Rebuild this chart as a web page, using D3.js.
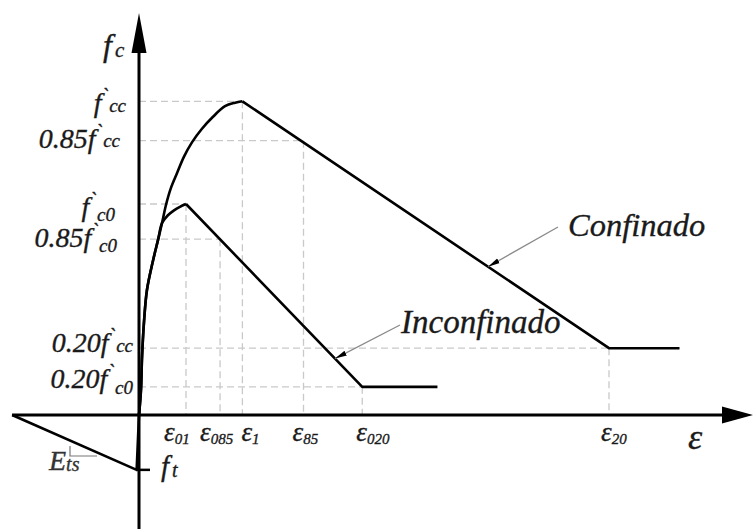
<!DOCTYPE html>
<html>
<head>
<meta charset="utf-8">
<script src="https://cdn.jsdelivr.net/npm/d3@7/dist/d3.min.js"></script>
<style>
  html, body { margin: 0; padding: 0; background: #fff; }
  svg { display: block; }
  text { font-family: "Liberation Serif", "Times New Roman", serif; font-style: italic; fill: #1a1a1a; stroke: #1a1a1a; stroke-width: 0.35px; }
</style>
</head>
<body>
<svg id="chart" width="753" height="529"></svg>
<script>
// Schematic stress–strain model for confined and unconfined concrete.
// Strain in ‰, stress in MPa-like schematic units.

// Confined branch: parabolic rise to f'cc, linear softening, residual plateau
const confinedRiseStrain = [0, 0.085, 0.13, 0.21, 0.34, 0.60, 0.81, 0.98, 1.15, 1.36, 1.62, 1.91, 2.26, 2.68, 3.15, 3.66, 4.09, 4.4];
const confinedRiseStress = [0, 3.6, 8.3, 13.1, 17.8, 22.0, 24.9, 27.3, 29.9, 32.3, 34.4, 36.7, 38.8, 40.7, 42.4, 43.9, 44.4, 44.6];
const confinedTailStrain = [4.4, 20.0, 23.0];
const confinedTailStress = [44.6, 9.5, 9.5];

// Unconfined branch
const unconfinedRiseStrain = [0, 0.085, 0.13, 0.21, 0.34, 0.60, 0.81, 0.98, 1.23, 1.49, 1.74, 2.0];
const unconfinedRiseStress = [0, 3.6, 8.3, 13.1, 17.8, 22.0, 24.9, 27.3, 28.4, 29.1, 29.6, 30.0];
const unconfinedTailStrain = [2.0, 9.5, 12.7];
const unconfinedTailStress = [30.0, 4.0, 4.0];

// Tension branch
const tensionStrain = [0, -0.1, -5.4];
const tensionStress = [0, -7.8, 0];

// Reference stress levels (y-axis labels)
const levelMain  = ["f", "0.85f", "f", "0.85f", "0.20f", "0.20f"];
const levelSub   = ["cc", "cc", "c0", "c0", "cc", "c0"];
const levelValue = [44.6, 39.0, 30.0, 25.0, 9.5, 4.0];
const levelReach = [4.4, 7.0, 2.0, 3.45, 20.0, 9.5];

// Reference strains (x-axis labels)
const strainSub   = ["01", "085", "1", "85", "020", "20"];
const strainValue = [2.0, 3.45, 4.4, 7.0, 9.5, 20.0];
const strainReach = [30.0, 25.0, 44.6, 39.0, 4.0, 9.5];

const ftValue = -7.8;

const W = 753, H = 529;
const svg = d3.select("#chart");

const x = d3.scaleLinear().domain([0, 20]).range([139, 609]);
const y = d3.scaleLinear().domain([0, 30]).range([415, 204]);

const zip = (a, b) => a.map((v, i) => [v, b[i]]);
const lineSmooth = d3.line().x(d => x(d[0])).y(d => y(d[1])).curve(d3.curveCatmullRom.alpha(0.5));
const lineLin    = d3.line().x(d => x(d[0])).y(d => y(d[1]));

// Dashed guide lines
const grid = svg.append("g").attr("stroke", "#c9c9c9").attr("stroke-width", 1.3)
  .attr("stroke-dasharray", "7,4").attr("fill", "none");
levelValue.forEach((v, i) => {
  grid.append("line").attr("x1", x(0)).attr("x2", x(levelReach[i]))
    .attr("y1", y(v)).attr("y2", y(v));
});
strainValue.forEach((v, i) => {
  grid.append("line").attr("x1", x(v)).attr("x2", x(v))
    .attr("y1", y(strainReach[i])).attr("y2", y(0));
});

// Axes
const axisG = svg.append("g");
const xStart = x(tensionStrain[2]);
axisG.append("line").attr("x1", xStart).attr("x2", W - 30).attr("y1", y(0)).attr("y2", y(0))
  .attr("stroke", "#000").attr("stroke-width", 3);
axisG.append("path").attr("d", `M${W - 31},${y(0) - 8.5}L${W},${y(0)}L${W - 31},${y(0) + 8.5}Z`).attr("fill", "#000");
axisG.append("line").attr("x1", x(0)).attr("x2", x(0)).attr("y1", H).attr("y2", 50)
  .attr("stroke", "#000").attr("stroke-width", 3);

// Axis titles
const fc = svg.append("text").attr("x", 103).attr("y", 56).attr("font-size", 32);
fc.append("tspan").text("f");
fc.append("tspan").attr("font-size", 21).attr("dx", 3).attr("dy", 1).text("c");
axisG.append("path").attr("d", `M${x(0) - 7.5},53L${x(0)},13L${x(0) + 7.5},53Z`).attr("fill", "#000");

svg.append("text").attr("x", 688).attr("y", 449).attr("font-size", 36).text("ε");

// Curves
const curves = svg.append("g").attr("fill", "none").attr("stroke", "#000")
  .attr("stroke-width", 2.6).attr("stroke-linejoin", "round");
curves.append("path").attr("d", lineSmooth(zip(confinedRiseStrain, confinedRiseStress)));
curves.append("path").attr("d", lineLin(zip(confinedTailStrain, confinedTailStress)));
curves.append("path").attr("d", lineSmooth(zip(unconfinedRiseStrain, unconfinedRiseStress)));
curves.append("path").attr("d", lineLin(zip(unconfinedTailStrain, unconfinedTailStress)));
curves.append("path").attr("d", lineLin(zip(tensionStrain, tensionStress)));

// f_t marker
svg.append("line").attr("x1", x(0) - 3).attr("x2", x(0) + 11)
  .attr("y1", y(ftValue)).attr("y2", y(ftValue)).attr("stroke", "#000").attr("stroke-width", 2.5);
const ft = svg.append("text").attr("x", 161).attr("y", 476).attr("font-size", 29);
ft.append("tspan").text("f");
ft.append("tspan").attr("font-size", 20).attr("dx", 3).attr("dy", 1).text("t");

// E_ts slope mark
svg.append("path").attr("d", "M70,446V456H97").attr("fill", "none")
  .attr("stroke", "#777").attr("stroke-width", 1.2);
const ets = svg.append("text").attr("x", 49).attr("y", 470).attr("font-size", 28)
  .style("fill", "#333").style("stroke", "#333");
ets.append("tspan").text("E");
ets.append("tspan").attr("font-size", 20).attr("dy", 1).text("ts");

// Stress level labels
const levelRight = [126, 120, 115, 117, 133, 133];
const levelBase  = [11, 7, 12, 8, 4, 1];
const levelSubDy = [0, -1, 5, 5, 0, 6];
levelValue.forEach((v, i) => {
  const t = svg.append("text").attr("x", levelRight[i]).attr("y", y(v) + levelBase[i])
    .attr("font-size", 28).attr("text-anchor", "end");
  t.append("tspan").text(levelMain[i]);
  t.append("tspan").attr("font-size", 20).attr("dx", 0).attr("dy", -9).text("`");
  t.append("tspan").attr("font-size", 19).attr("dx", 1).attr("dy", 9 + levelSubDy[i]).text(levelSub[i]);
});

// Strain labels
const strainNudge = [-22, -20, -1, -11, -6, -8];
strainValue.forEach((v, i) => {
  const t = svg.append("text").attr("x", x(v) + strainNudge[i]).attr("y", 441).attr("font-size", 27);
  t.append("tspan").text("ε");
  t.append("tspan").attr("font-size", 15).attr("dx", 0).attr("dy", 3).text(strainSub[i]);
});

// Leader annotations
const defs = svg.append("defs");
defs.append("marker").attr("id", "tip").attr("viewBox", "0 -3 12 6")
  .attr("refX", 12).attr("refY", 0).attr("markerWidth", 12).attr("markerHeight", 6)
  .attr("markerUnits", "userSpaceOnUse").attr("orient", "auto")
  .append("path").attr("d", "M0,-2.6L12,0L0,2.6Z").attr("fill", "#000");

function onLine(sx, strains, stresses) {
  const s = d3.scaleLinear().domain(strains.slice(0, 2)).range(stresses.slice(0, 2));
  return [x(sx), y(s(sx))];
}
const confTip = onLine(x.invert(488), confinedTailStrain, confinedTailStress);
const unconfTip = onLine(x.invert(335), unconfinedTailStrain, unconfinedTailStress);

svg.append("line").attr("x1", 558).attr("y1", 227).attr("x2", confTip[0]).attr("y2", confTip[1])
  .attr("stroke", "#8a8a8a").attr("stroke-width", 1.3).attr("marker-end", "url(#tip)");
svg.append("line").attr("x1", 400).attr("y1", 325).attr("x2", unconfTip[0]).attr("y2", unconfTip[1])
  .attr("stroke", "#8a8a8a").attr("stroke-width", 1.3).attr("marker-end", "url(#tip)");

svg.append("text").attr("x", 568).attr("y", 236).attr("font-size", 32.5).text("Confinado");
svg.append("text").attr("x", 401).attr("y", 333).attr("font-size", 33).text("Inconfinado");
</script>
</body>
</html>
